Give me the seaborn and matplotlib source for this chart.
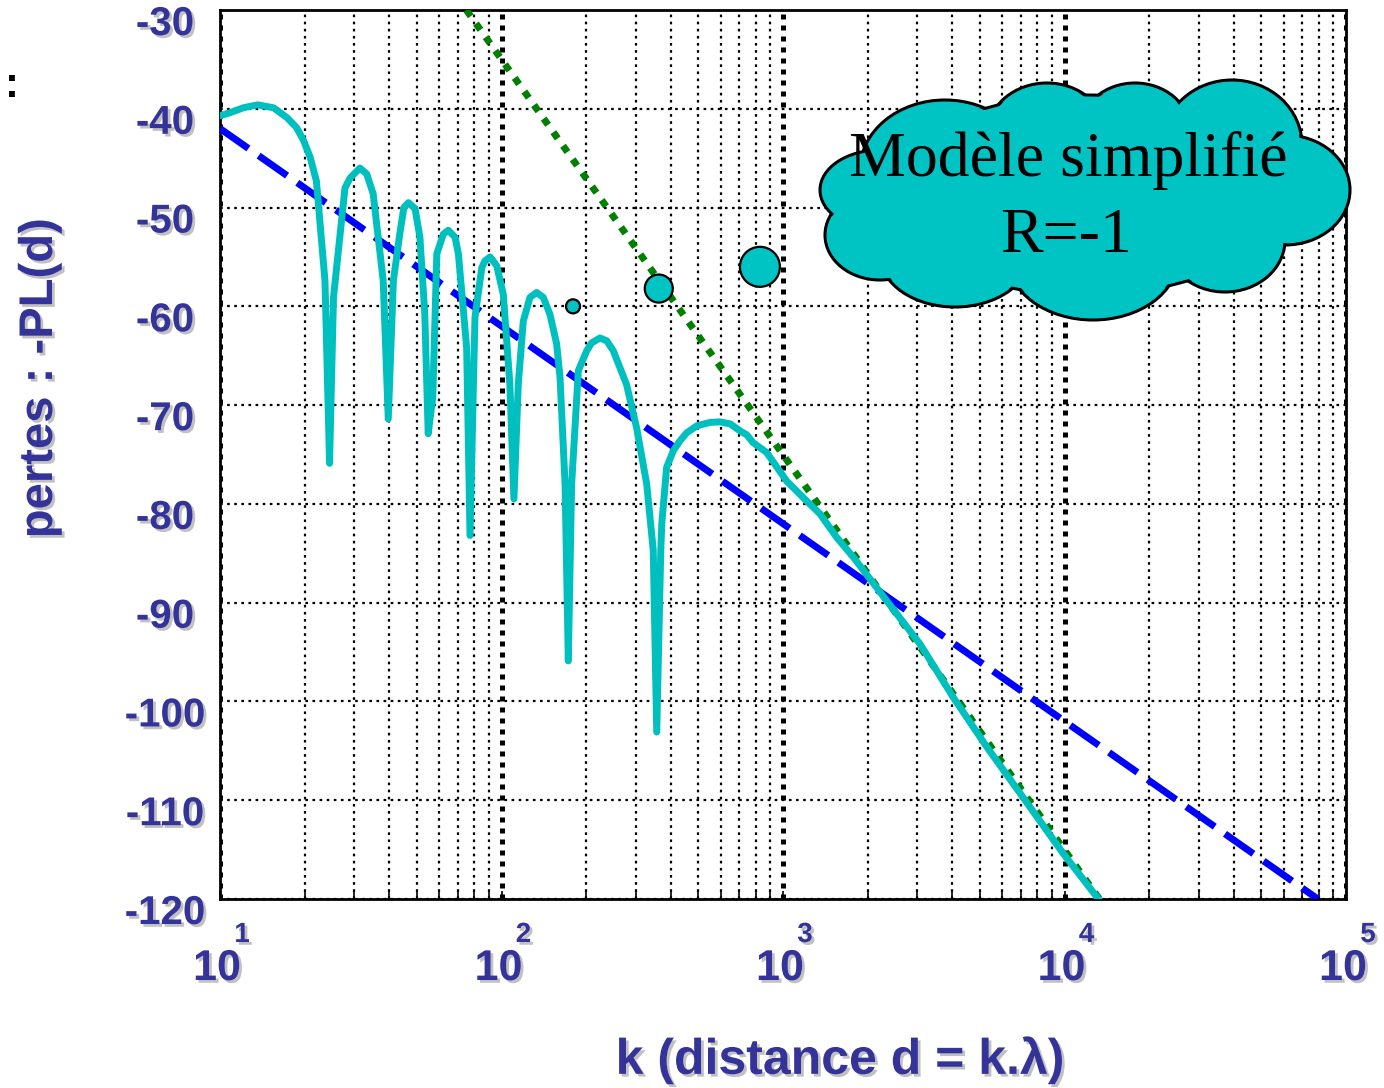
import numpy as np
import pandas as pd
import matplotlib
matplotlib.use("Agg")
import matplotlib.pyplot as plt
import matplotlib.transforms as mtrans
import matplotlib.patheffects as pe
from matplotlib.patches import Ellipse
from matplotlib.ticker import LogLocator, NullFormatter, FixedLocator
import seaborn as sns

# ---------------- data ----------------
cyan_k = [10, 10.85, 12.1, 13.6, 15.5, 17.3, 18.7, 19.8, 20.9, 22, 23.6, 24.5, 25.3,
          27.8, 29.0, 31.4, 33.2, 35.0, 38.0, 39.6, 41.3, 43.6, 45.0, 46.7, 49.3,
          51.3, 53.4, 54.9, 57.0, 58.9, 62.1, 64.7, 68.4, 70.3, 75.2, 77.3, 80.5,
          85.1, 87.3, 91.1, 96.2, 101.5, 107.1, 110.7, 114.7, 119.5, 126.2, 133.3,
          140.8, 148.6, 157, 161.4, 168.2, 172.7, 177.5, 187.5, 200.8, 209, 223.9,
          236.6, 249.6, 278, 302, 328, 346, 356, 368, 371, 386, 408, 431, 455, 494,
          551, 597, 649, 703, 743, 783, 875, 1031, 1213, 1352, 1552, 1778, 2335,
          3069, 4029, 5293, 6955, 9900, 13360]
cyan_db = [-40.7, -40.4, -39.9, -39.6, -39.9, -40.9, -41.9, -43.2, -44.9, -47.3, -57.4,
           -75.9, -59.1, -48.0, -47.0, -46.0, -46.6, -48.6, -57.4, -71.4, -57.4, -52.5,
           -50.0, -49.5, -50.1, -53.0, -60.8, -72.9, -69.2, -54.7, -52.7, -52.3, -53.0,
           -54.7, -64.2, -83.2, -61.1, -56.1, -55.4, -55.0, -55.9, -58.8, -67.9, -79.5,
           -67.9, -61.5, -59.1, -58.6, -59.1, -60.8, -63.8, -67.2, -78.0, -95.9, -78.0,
           -66.5, -64.5, -63.7, -63.2, -63.5, -64.5, -67.9, -72.3, -78.0, -84.7, -103.1,
           -84.7, -82.0, -76.3, -74.6, -73.6, -72.8, -72.1, -71.75, -71.7, -71.9, -72.6,
           -73.0, -73.8, -74.8, -77.7, -79.7, -81.0, -83.4, -85.4, -89.8, -94.2, -99.6,
           -104.6, -109.3, -115.4, -120.2]
free_k = [10, 79400]
free_db = [-42, -120]
far_k = [75, 13300]
far_db = [-30, -120]
bubble_k = [179.5, 362, 828]
bubble_db = [-60.0, -58.2, -56.0]
bubble_area = [102, 407, 829]
xtick_exp = ["1", "2", "3", "4", "5"]
ytick_vals = [-30, -40, -50, -60, -70, -80, -90, -100, -110, -120]
cloud_lines = ["Modèle simplifié", "R=-1"]
xlabel = "k (distance d = k.λ)"
ylabel = "pertes : -PL(d)"

TXT = "#333399"
CYAN = "#00BFBF"
CLOUD = "#00C4C4"

sns.set_style("white")
plt.rcParams["font.family"] = ["Liberation Sans", "DejaVu Sans"]

W, H = 1384, 1088
fig = plt.figure(figsize=(W / 100, H / 100), dpi=100)
ax = fig.add_axes([220 / W, 1 - 899 / H, 1126 / W, 889 / H])
ax.set_xscale("log")

df_c = pd.DataFrame({"k": cyan_k, "db": cyan_db})
df_f = pd.DataFrame({"k": free_k, "db": free_db})
df_r = pd.DataFrame({"k": far_k, "db": far_db})
df_b = pd.DataFrame({"k": bubble_k, "db": bubble_db})

sns.lineplot(data=df_r, x="k", y="db", ax=ax, color="#008000", lw=5,
             linestyle=(0, (1.1, 1.3)), zorder=3)
sns.lineplot(data=df_f, x="k", y="db", ax=ax, color="#0000FF", lw=5,
             linestyle=(0, (5, 1.8)), zorder=3)
sns.lineplot(data=df_c, x="k", y="db", ax=ax, color=CYAN, lw=5, zorder=4,
             solid_joinstyle="round", solid_capstyle="round")
sns.scatterplot(data=df_b, x="k", y="db", ax=ax, s=bubble_area, color=CLOUD,
                edgecolor="black", linewidth=1.6, zorder=5, legend=False)

ax.set_xlim(10, 1e5)
ax.set_ylim(-120, -30)
ax.set_xlabel("")
ax.set_ylabel("")

ax.xaxis.set_major_locator(FixedLocator([10, 100, 1e3, 1e4, 1e5]))
ax.xaxis.set_minor_locator(LogLocator(base=10, subs=np.arange(2, 10)))
ax.xaxis.set_minor_formatter(NullFormatter())
ax.set_xticklabels([])
ax.set_yticks(ytick_vals)
ax.set_yticklabels([])

ax.set_axisbelow(True)
ax.grid(which="major", axis="x", color="black", lw=3.6, linestyle=(0, (1.0, 1.2)))
ax.grid(which="minor", axis="x", color="black", lw=1.6, linestyle=(0, (1.2, 2.0)))
ax.grid(which="major", axis="y", color="black", lw=1.6, linestyle=(0, (1.2, 2.0)))

for s in ax.spines.values():
    s.set_color("black")
    s.set_linewidth(2)
ax.tick_params(axis="x", which="both", direction="in", bottom=True, top=False,
               length=6, width=1.2, color="black")
ax.tick_params(axis="y", which="both", length=0)

shadow = [pe.withSimplePatchShadow(offset=(2, -2), shadow_rgbFace="#999999", alpha=0.6)]

# y tick labels (centered, slightly below their gridline)
ty = mtrans.blended_transform_factory(ax.transAxes, ax.transData) + \
    mtrans.ScaledTranslation(0, -0.14, fig.dpi_scale_trans)
for v in ytick_vals:
    ax.text(-55 / 1126, v, str(v), transform=ty, ha="center", va="center",
            fontsize=29, fontweight="bold", color=TXT, path_effects=shadow,
            clip_on=False)

# x tick labels: "10" with a detached exponent
for i, e in enumerate(xtick_exp):
    xv = 10.0 ** (i + 1)
    t1 = mtrans.blended_transform_factory(ax.transData, ax.transAxes) + \
        mtrans.ScaledTranslation(-0.03, 0, fig.dpi_scale_trans)
    ax.text(xv, -70 / 889, "10", transform=t1, ha="center", va="center",
            fontsize=31, fontweight="bold", color=TXT, path_effects=shadow,
            clip_on=False)
    t2 = mtrans.blended_transform_factory(ax.transData, ax.transAxes) + \
        mtrans.ScaledTranslation(0.22, 0, fig.dpi_scale_trans)
    ax.text(xv, -36 / 889, e, transform=t2, ha="center", va="center",
            fontsize=20, fontweight="bold", color=TXT, path_effects=shadow,
            clip_on=False)

# overlay in pixel coordinates for cloud and axis titles
ov = fig.add_axes([0, 0, 1, 1], zorder=10)
ov.set_xlim(0, W)
ov.set_ylim(H, 0)
ov.axis("off")
ov.patch.set_alpha(0)

lobes = [(945, 170, 170, 140), (1047, 135, 120, 104), (1135, 130, 110, 94),
         (1232, 145, 140, 130), (1285, 190, 130, 110), (1225, 240, 120, 104),
         (1093, 258, 170, 124), (955, 255, 150, 104), (880, 235, 110, 90),
         (880, 190, 120, 80), (1085, 195, 400, 200)]
for cx, cy, w, h in lobes:
    ov.add_patch(Ellipse((cx, cy), w, h, facecolor=CLOUD, edgecolor="black", lw=2.2))
for cx, cy, w, h in lobes:
    ov.add_patch(Ellipse((cx, cy), w - 4, h - 4, facecolor=CLOUD, edgecolor="none"))

ov.text(1068, 160, cloud_lines[0], ha="center", va="center", fontsize=46,
        family=["Liberation Serif", "DejaVu Serif"], color="black")
ov.text(1066, 237, cloud_lines[1], ha="center", va="center", fontsize=46,
        family=["Liberation Serif", "DejaVu Serif"], color="black")

ov.text(40, 378, ylabel, rotation=90, ha="center", va="center", fontsize=34,
        fontweight="bold", color=TXT, path_effects=shadow)
ov.text(840, 1060, xlabel, ha="center", va="center", fontsize=36,
        fontweight="bold", color=TXT, path_effects=shadow)
ov.text(12, 86, ":", ha="center", va="center", fontsize=30, color="black",
        fontweight="bold")

fig.savefig("out.png", dpi=100)
